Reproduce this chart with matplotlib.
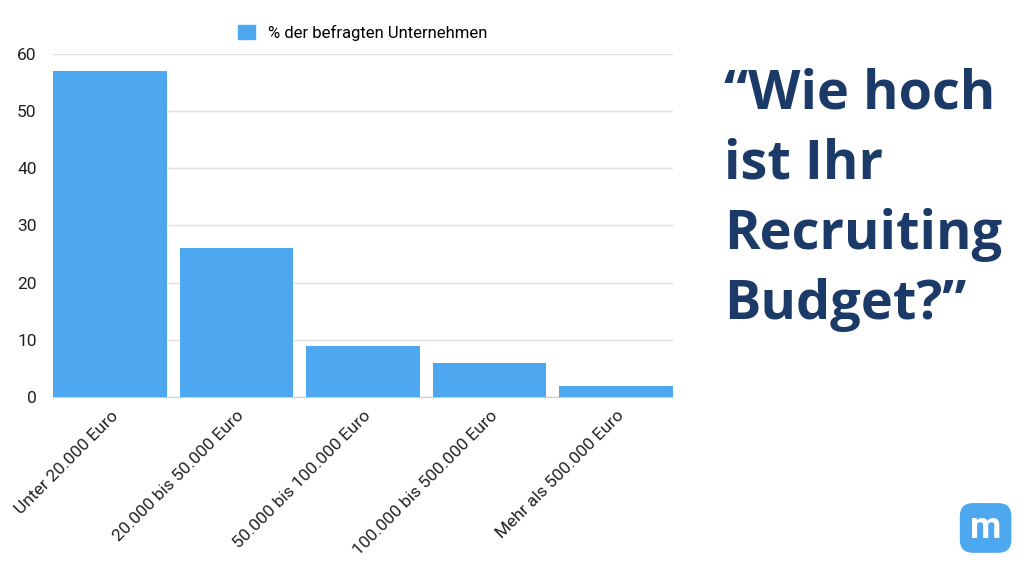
import matplotlib.pyplot as plt
from matplotlib.patches import FancyBboxPatch, Patch

kategorien = ['Unter 20.000 Euro', '20.000 bis 50.000 Euro', '50.000 bis 100.000 Euro',
              '100.000 bis 500.000 Euro', 'Mehr als 500.000 Euro']
werte = [57, 26, 9, 6, 2]
serie = '% der befragten Unternehmen'
frage = '\u201cWie hoch\nist Ihr\nRecruiting\nBudget?\u201d'

blau = '#4DA8F0'
navy = '#1B3A68'

plt.rcParams['font.family'] = ['Roboto', 'DejaVu Sans']

fig = plt.figure(figsize=(10.24, 5.68), dpi=100)
ax = fig.add_axes([0.052, 0.301, 0.605, 0.604])

x = range(len(werte))
ax.bar(x, werte, width=0.9, color=blau, zorder=3)
ax.set_xlim(-0.45, len(werte) - 0.55)
ax.set_ylim(0, 60)
ax.set_yticks(range(0, 61, 10))
ax.set_xticks(list(x))
ax.set_xticklabels(kategorien, rotation=45, ha='right', rotation_mode='anchor', fontsize=12.5, color='#222222')
ax.tick_params(axis='y', labelsize=12.5, labelcolor='#222222', length=0, pad=12)
ax.tick_params(axis='x', length=0, pad=8)
ax.grid(axis='y', color='#E0E0E0', linewidth=1, zorder=0)
for s in ['top', 'right', 'left']:
    ax.spines[s].set_visible(False)
ax.spines['bottom'].set_color('#CCCCCC')

ax.legend(handles=[Patch(color=blau, label=serie)], loc='lower center', bbox_to_anchor=(0.5, 0.995),
          frameon=False, fontsize=12, handlelength=1.0, handleheight=1.0)

fig.text(0.707, 0.882, frage, fontsize=39, fontweight='bold', color=navy, va='top', ha='left',
         family=['Open Sans', 'DejaVu Sans'], linespacing=1.40)

# Logo unten rechts
logo = FancyBboxPatch((0.938, 0.028), 0.049, 0.085, boxstyle='round,pad=0,rounding_size=0.012',
                      transform=fig.transFigure, color=blau, mutation_aspect=1.8)
fig.patches.append(logo)
fig.text(0.9625, 0.07, 'm', fontsize=26, fontweight='bold', color='white', ha='center', va='center')

fig.savefig('out.png', dpi=100)
